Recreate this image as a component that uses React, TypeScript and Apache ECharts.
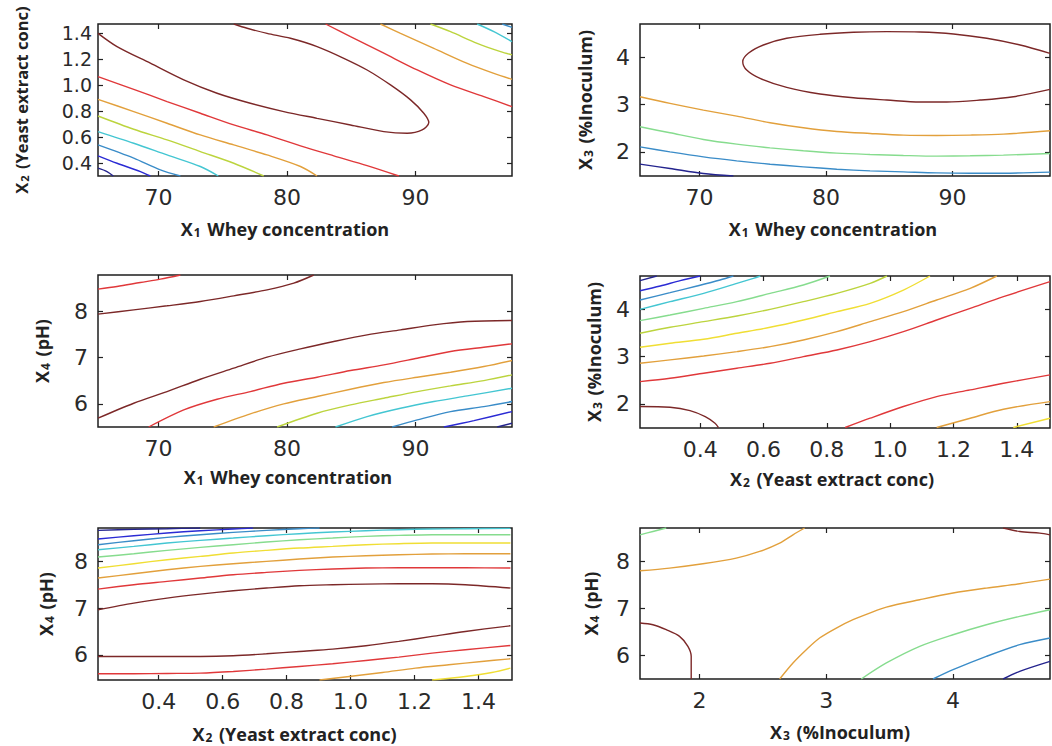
import React, { useEffect, useRef } from "react";
import * as echarts from "echarts";

// ---------- axis ranges & ticks ----------
const x1Range = [65.3, 97.5];
const x1RangeR = [65.3, 97.7];
const x2Range = [0.21, 1.505];
const x3Range = [1.53, 4.765];
const y1Range = [0.3, 1.47];
const y3Range = [1.49, 4.705];
const y4RangeP3 = [5.5, 8.79];
const y4RangeP5 = [5.46, 8.715];
const y4RangeP6 = [5.505, 8.71];

const x1Ticks = [70, 80, 90];
const x2Ticks = [0.4, 0.6, 0.8, 1.0, 1.2, 1.4];
const x3Ticks = [2, 3, 4];
const x4Ticks = [6, 7, 8];

// ---------- Panel 1: X1 vs X2 ----------
const p1_maroon = [[65.3,1.398],[66.78,1.296],[69.37,1.168],[71.97,1.04],[74.56,0.937],[77.15,0.86],[79.75,0.796],[82.34,0.744],[84.94,0.693],[87.53,0.642],[89.35,0.629],[90.51,0.655],[91.03,0.711],[90.64,0.783],[89.61,0.886],[88.05,1.001],[86.23,1.116],[84.42,1.206],[82.34,1.296],[80.27,1.36],[78.45,1.398],[76.9,1.437],[75.86,1.47]];
const p1_red = [[65.3,1.065],[68.08,0.967],[70.67,0.873],[73.26,0.783],[75.86,0.693],[78.45,0.616],[81.05,0.532],[83.64,0.455],[86.23,0.38],[88.7,0.3]];
const p1_orange = [[65.3,0.89],[68.08,0.796],[70.67,0.706],[73.26,0.616],[75.86,0.539],[78.45,0.462],[81.05,0.373],[82.34,0.3]];
const p1_ygreen = [[65.3,0.762],[68.08,0.66],[70.67,0.578],[73.26,0.488],[75.86,0.398],[78.19,0.3]];
const p1_cyan = [[65.3,0.642],[68.08,0.552],[70.67,0.462],[73.26,0.373],[74.66,0.3]];
const p1_steel = [[65.3,0.539],[68.08,0.437],[70.15,0.347],[71.71,0.3]];
const p1_blue = [[65.3,0.455],[66.78,0.398],[68.6,0.334],[69.37,0.3]];
const p1_navy = [[65.3,0.36],[66.0,0.334],[66.49,0.3]];
const p1_redTR = [[83.0,1.47],[84.94,1.373],[87.53,1.245],[90.13,1.116],[92.72,1.001],[95.31,0.911],[97.5,0.834]];
const p1_orangeTR = [[87.27,1.47],[88.83,1.398],[91.42,1.283],[94.02,1.167],[96.09,1.09],[97.5,1.044]];
const p1_ygreenTR = [[91.16,1.47],[92.72,1.411],[94.79,1.321],[96.61,1.257],[97.5,1.232]];
const p1_cyanTR = [[94.79,1.47],[96.09,1.411],[97.5,1.334]];
const p1_steelTR = [[96.74,1.47],[97.5,1.444]];

// ---------- Panel 2: X1 vs X3 ----------
const p2_maroon = [[97.7,4.085],[95.34,4.261],[92.7,4.403],[90.07,4.494],[87.43,4.537],[84.8,4.544],[82.16,4.53],[79.53,4.487],[76.89,4.403],[75.05,4.261],[73.86,4.085],[73.42,3.908],[73.73,3.732],[74.79,3.555],[76.89,3.364],[79.53,3.223],[82.16,3.145],[84.8,3.096],[87.43,3.054],[89.54,3.054],[92.18,3.096],[94.81,3.167],[97.7,3.322]];
const p2_orange = [[65.3,3.167],[67.67,3.025],[70.31,2.884],[72.94,2.757],[75.58,2.616],[78.21,2.51],[80.85,2.432],[83.48,2.39],[86.12,2.355],[88.75,2.347],[91.39,2.355],[94.02,2.376],[97.7,2.446]];
const p2_green = [[65.3,2.531],[67.67,2.404],[70.31,2.263],[72.94,2.164],[75.58,2.086],[78.21,2.023],[80.85,1.973],[83.48,1.945],[86.12,1.924],[88.75,1.91],[91.39,1.917],[94.02,1.931],[97.7,1.966]];
const p2_steel = [[65.3,2.107],[67.67,2.001],[70.31,1.895],[72.94,1.811],[75.58,1.74],[78.21,1.684],[80.85,1.634],[83.48,1.599],[86.12,1.578],[88.75,1.556],[91.39,1.549],[94.02,1.549],[97.7,1.571]];
const p2_navy = [[65.3,1.74],[67.67,1.648],[70.31,1.542],[72.68,1.49]];

// ---------- Panel 3: X1 vs X4 ----------
const p3_redTL = [[65.3,8.484],[66.78,8.542],[68.59,8.628],[70.15,8.7],[71.71,8.79]];
const p3_maroonTop = [[65.3,7.942],[68.08,8.036],[70.67,8.123],[73.26,8.217],[75.86,8.339],[78.45,8.469],[80.53,8.614],[82.08,8.79]];
const p3_maroon = [[65.3,5.69],[68.08,6.014],[70.67,6.267],[73.26,6.534],[75.86,6.773],[78.45,7.011],[81.05,7.191],[83.64,7.35],[86.23,7.495],[88.83,7.603],[91.42,7.711],[94.02,7.783],[97.5,7.805]];
const p3_red = [[69.24,5.5],[71.97,5.87],[74.56,6.101],[77.15,6.267],[79.75,6.448],[82.34,6.578],[84.94,6.722],[87.53,6.845],[90.13,6.989],[92.72,7.134],[95.31,7.227],[97.5,7.3]];
const p3_orange = [[74.3,5.5],[77.15,5.783],[79.75,6.0],[82.34,6.159],[84.94,6.318],[87.53,6.462],[90.13,6.578],[92.72,6.686],[95.31,6.809],[97.5,6.939]];
const p3_ygreen = [[79.23,5.5],[82.34,5.798],[84.94,5.978],[87.53,6.123],[90.13,6.267],[92.72,6.39],[95.31,6.505],[97.5,6.628]];
const p3_cyan = [[83.77,5.5],[86.23,5.726],[88.83,5.906],[91.42,6.051],[94.02,6.173],[97.5,6.339]];
const p3_steel = [[88.18,5.5],[90.13,5.653],[92.72,5.834],[95.31,5.942],[97.5,6.051]];
const p3_blue = [[92.2,5.5],[94.54,5.639],[97.5,5.834]];
const p3_navy = [[96.35,5.5],[97.5,5.581]];

// ---------- Panel 4: X2 vs X3 ----------
const p4_navy = [[0.21,4.606],[0.263,4.705]];
const p4_blue = [[0.21,4.394],[0.274,4.493],[0.337,4.606],[0.4,4.705]];
const p4_steel = [[0.21,4.197],[0.305,4.352],[0.39,4.493],[0.463,4.62],[0.505,4.705]];
const p4_cyan = [[0.21,4.0],[0.305,4.162],[0.411,4.338],[0.516,4.549],[0.568,4.655],[0.59,4.705]];
const p4_green = [[0.21,3.761],[0.305,3.88],[0.411,4.021],[0.516,4.162],[0.621,4.338],[0.726,4.514],[0.81,4.705]];
const p4_ygreen = [[0.21,3.493],[0.305,3.62],[0.411,3.739],[0.516,3.859],[0.621,4.0],[0.726,4.162],[0.832,4.338],[0.937,4.549],[0.99,4.705]];
const p4_yellow = [[0.21,3.197],[0.305,3.282],[0.411,3.366],[0.516,3.493],[0.621,3.62],[0.726,3.775],[0.832,3.951],[0.937,4.127],[1.042,4.408],[1.126,4.705]];
const p4_orange = [[0.21,2.859],[0.305,2.93],[0.411,3.014],[0.516,3.106],[0.621,3.211],[0.726,3.352],[0.832,3.528],[0.937,3.739],[1.042,3.951],[1.147,4.197],[1.253,4.444],[1.337,4.705]];
const p4_red = [[0.21,2.472],[0.305,2.542],[0.411,2.648],[0.516,2.754],[0.621,2.859],[0.726,3.0],[0.832,3.141],[0.937,3.317],[1.042,3.528],[1.147,3.775],[1.253,4.021],[1.358,4.268],[1.505,4.585]];
const p4_maroon = [[0.21,1.944],[0.305,1.93],[0.368,1.859],[0.416,1.732],[0.447,1.592],[0.458,1.5]];
const p4_redLow = [[0.858,1.5],[0.937,1.697],[1.042,1.944],[1.147,2.155],[1.253,2.296],[1.358,2.437],[1.505,2.613]];
const p4_orangeLow = [[1.147,1.5],[1.253,1.697],[1.358,1.887],[1.505,2.049]];
const p4_yellowLow = [[1.389,1.5],[1.505,1.697]];

// ---------- Panel 5: X2 vs X4 ----------
const p5_navy = [[0.21,8.664],[0.322,8.686],[0.426,8.7],[0.53,8.715]];
const p5_blue = [[0.21,8.479],[0.322,8.55],[0.426,8.607],[0.53,8.657],[0.633,8.693],[0.695,8.715]];
const p5_steel = [[0.21,8.357],[0.322,8.443],[0.426,8.514],[0.53,8.571],[0.633,8.621],[0.737,8.664],[0.84,8.7],[0.903,8.715]];
const p5_cyan = [[0.21,8.25],[0.322,8.321],[0.426,8.393],[0.53,8.45],[0.633,8.5],[0.737,8.55],[0.84,8.593],[0.944,8.629],[1.048,8.657],[1.151,8.679],[1.255,8.693],[1.359,8.7],[1.5,8.707]];
const p5_green = [[0.21,8.093],[0.322,8.164],[0.426,8.236],[0.53,8.3],[0.633,8.357],[0.737,8.414],[0.84,8.464],[0.944,8.5],[1.048,8.536],[1.151,8.557],[1.255,8.571],[1.359,8.571],[1.5,8.571]];
const p5_yellow = [[0.21,7.857],[0.322,7.95],[0.426,8.036],[0.53,8.107],[0.633,8.179],[0.737,8.236],[0.84,8.286],[0.944,8.321],[1.048,8.357],[1.151,8.379],[1.255,8.393],[1.359,8.393],[1.5,8.393]];
const p5_orange = [[0.21,7.643],[0.322,7.736],[0.426,7.821],[0.53,7.893],[0.633,7.95],[0.737,8.0],[0.84,8.05],[0.944,8.093],[1.048,8.121],[1.151,8.143],[1.255,8.157],[1.359,8.164],[1.5,8.164]];
const p5_red = [[0.21,7.407],[0.322,7.5],[0.426,7.571],[0.53,7.643],[0.633,7.714],[0.737,7.764],[0.84,7.807],[0.944,7.836],[1.048,7.857],[1.151,7.864],[1.255,7.864],[1.359,7.864],[1.5,7.857]];
const p5_maroon = [[0.21,6.964],[0.322,7.107],[0.426,7.214],[0.53,7.3],[0.633,7.371],[0.737,7.429],[0.84,7.479],[0.944,7.5],[1.048,7.514],[1.151,7.521],[1.255,7.521],[1.359,7.5],[1.5,7.429]];
const p5_maroonLow = [[0.21,5.964],[0.322,5.964],[0.426,5.964],[0.53,5.964],[0.633,5.979],[0.737,6.021],[0.84,6.071],[0.944,6.121],[1.048,6.193],[1.151,6.286],[1.255,6.393],[1.359,6.5],[1.5,6.621]];
const p5_redLow = [[0.21,5.593],[0.322,5.593],[0.426,5.6],[0.53,5.607],[0.633,5.643],[0.737,5.693],[0.84,5.75],[0.944,5.807],[1.048,5.879],[1.151,5.95],[1.255,6.036],[1.359,6.107],[1.5,6.2]];
const p5_orangeLow = [[0.903,5.46],[0.996,5.536],[1.1,5.621],[1.203,5.714],[1.307,5.786],[1.41,5.857],[1.5,5.914]];
const p5_yellowLow = [[1.255,5.46],[1.359,5.536],[1.442,5.621],[1.5,5.714]];

// ---------- Panel 6: X3 vs X4 ----------
const p6_greenTL = [[1.53,8.565],[1.632,8.636],[1.737,8.71]];
const p6_orangeTop = [[1.53,7.802],[1.763,7.859],[2.026,7.951],[2.289,8.071],[2.474,8.212],[2.632,8.389],[2.737,8.565],[2.829,8.71]];
const p6_maroon = [[1.53,6.693],[1.632,6.657],[1.737,6.551],[1.842,6.41],[1.908,6.198],[1.934,5.986],[1.934,5.505]];
const p6_maroonTR = [[4.395,8.71],[4.526,8.636],[4.684,8.601],[4.765,8.565]];
const p6_orangeLow = [[2.632,5.505],[2.737,5.845],[2.842,6.127],[2.947,6.375],[3.079,6.587],[3.211,6.763],[3.342,6.905],[3.474,7.032],[3.737,7.187],[4.0,7.329],[4.263,7.435],[4.526,7.527],[4.765,7.625]];
const p6_green = [[3.276,5.505],[3.474,5.845],[3.737,6.198],[4.0,6.445],[4.263,6.657],[4.526,6.834],[4.765,6.975]];
const p6_blue = [[3.842,5.505],[4.0,5.703],[4.263,5.986],[4.526,6.233],[4.765,6.375]];
const p6_navy = [[4.395,5.505],[4.526,5.668],[4.765,5.88]];

// ---------- colours (jet-like) ----------
const COL: Record<string, string> = {
  navy: "#24248e",
  blue: "#2b2bd4",
  steel: "#3a8cc8",
  cyan: "#44c6d2",
  green: "#86dc8e",
  ygreen: "#bcd43e",
  yellow: "#f0de34",
  orange: "#e2a03c",
  red: "#e0383a",
  maroon: "#7c2828",
};

const panelLines: [number, string, number[][]][] = [
  [0, "maroon", p1_maroon], [0, "red", p1_red], [0, "orange", p1_orange], [0, "ygreen", p1_ygreen],
  [0, "cyan", p1_cyan], [0, "steel", p1_steel], [0, "blue", p1_blue], [0, "navy", p1_navy],
  [0, "red", p1_redTR], [0, "orange", p1_orangeTR], [0, "ygreen", p1_ygreenTR], [0, "cyan", p1_cyanTR], [0, "steel", p1_steelTR],
  [1, "maroon", p2_maroon], [1, "orange", p2_orange], [1, "green", p2_green], [1, "steel", p2_steel], [1, "navy", p2_navy],
  [2, "red", p3_redTL], [2, "maroon", p3_maroonTop], [2, "maroon", p3_maroon], [2, "red", p3_red], [2, "orange", p3_orange],
  [2, "ygreen", p3_ygreen], [2, "cyan", p3_cyan], [2, "steel", p3_steel], [2, "blue", p3_blue], [2, "navy", p3_navy],
  [3, "navy", p4_navy], [3, "blue", p4_blue], [3, "steel", p4_steel], [3, "cyan", p4_cyan], [3, "green", p4_green],
  [3, "ygreen", p4_ygreen], [3, "yellow", p4_yellow], [3, "orange", p4_orange], [3, "red", p4_red], [3, "maroon", p4_maroon],
  [3, "red", p4_redLow], [3, "orange", p4_orangeLow], [3, "yellow", p4_yellowLow],
  [4, "navy", p5_navy], [4, "blue", p5_blue], [4, "steel", p5_steel], [4, "cyan", p5_cyan], [4, "green", p5_green],
  [4, "yellow", p5_yellow], [4, "orange", p5_orange], [4, "red", p5_red], [4, "maroon", p5_maroon],
  [4, "maroon", p5_maroonLow], [4, "red", p5_redLow], [4, "orange", p5_orangeLow], [4, "yellow", p5_yellowLow],
  [5, "green", p6_greenTL], [5, "orange", p6_orangeTop], [5, "maroon", p6_maroon], [5, "maroon", p6_maroonTR],
  [5, "orange", p6_orangeLow], [5, "green", p6_green], [5, "steel", p6_blue], [5, "navy", p6_navy],
];

// panel layout (pixels)
const panels = [
  { left: 98, top: 24, width: 414, height: 152, xr: x1Range, yr: y1Range, xt: x1Ticks, yt: x2Ticks, xd: 0, yd: 1, xn: ["X", "1", " Whey concentration"], yn: ["X", "2", " (Yeast extract conc)"], xGap: 44, xPad: 40, yGap: 68, yLab: 19, yMargin: 6, ySize: 16.5 },
  { left: 640, top: 24, width: 410, height: 152, xr: x1RangeR, yr: y3Range, xt: x1Ticks, yt: x3Ticks, xd: 0, yd: 0, xn: ["X", "1", " Whey concentration"], yn: ["X", "3", " (%Inoculum)"], xGap: 44, xPad: 24, yGap: 46, yLab: 22, yMargin: 10, ySize: 18 },
  { left: 98, top: 275, width: 414, height: 152, xr: x1Range, yr: y4RangeP3, xt: x1Ticks, yt: x4Ticks, xd: 0, yd: 0, xn: ["X", "1", " Whey concentration"], yn: ["X", "4", " (pH)"], xGap: 41, xPad: 34, yGap: 47, yLab: 22, yMargin: 10, ySize: 18 },
  { left: 640, top: 276, width: 410, height: 152, xr: x2Range, yr: y3Range, xt: x2Ticks, yt: x3Ticks, xd: 1, yd: 0, xn: ["X", "2", " (Yeast extract conc)"], yn: ["X", "3", " (%Inoculum)"], xGap: 42, xPad: 26, yGap: 37, yLab: 22, yMargin: 10, ySize: 18 },
  { left: 98, top: 528, width: 414, height: 152, xr: x2Range, yr: y4RangeP5, xt: x2Ticks, yt: x4Ticks, xd: 1, yd: 0, xn: ["X", "2", " (Yeast extract conc)"], yn: ["X", "4", " (pH)"], xGap: 45, xPad: 21, yGap: 43, yLab: 22, yMargin: 10, ySize: 18 },
  { left: 640, top: 528, width: 410, height: 151, xr: x3Range, yr: y4RangeP6, xt: x3Ticks, yt: x4Ticks, xd: 0, yd: 0, xn: ["X", "3", " (%Inoculum)"], yn: ["X", "4", " (pH)"], xGap: 44, xPad: 10, yGap: 40, yLab: 22, yMargin: 10, ySize: 18 },
];

const titleFont = "'Open Sans', 'DejaVu Sans', sans-serif";
const labelFont = "'DejaVu Sans', 'Liberation Sans', Arial, sans-serif";

function richName(parts: string[]) {
  return `{b|${parts[0]}}{s|${parts[1]}}{b|${parts[2]}}`;
}
function nameStyle(pad: number[], size: number) {
  return {
    padding: pad,
    rich: {
      b: { fontSize: size, fontWeight: "bold", fontFamily: titleFont, color: "#222" },
      s: { fontSize: Math.round(size * 0.68), fontWeight: "bold", fontFamily: titleFont, color: "#222", verticalAlign: "bottom", padding: [0, 2, 0, 1] },
    },
  };
}

export default function App() {
  const ref = useRef<HTMLDivElement>(null);
  useEffect(() => {
    if (!ref.current) return;
    const chart = echarts.init(ref.current, undefined, { renderer: "svg" });
    const grid: any[] = [];
    const xAxis: any[] = [];
    const yAxis: any[] = [];
    panels.forEach((p, i) => {
      grid.push({ left: p.left, top: p.top, width: p.width, height: p.height, show: true, borderColor: "#1e1e1e", borderWidth: 1.5, backgroundColor: "#fff" });
      const tick = (vals: number[]) => ({ show: true, inside: true, length: 5, customValues: vals, lineStyle: { color: "#222", width: 1.2 } });
      const fmt = (d: number) => (v: number) => v.toFixed(d);
      xAxis.push({
        gridIndex: i, type: "value", position: "bottom", min: p.xr[0], max: p.xr[1],
        axisLine: { show: false }, splitLine: { show: false }, axisTick: tick(p.xt),
        axisLabel: { customValues: p.xt, formatter: fmt(p.xd), fontSize: 22, color: "#2a2a2a", fontFamily: labelFont, margin: 10 },
        name: richName(p.xn), nameLocation: "middle", nameGap: p.xGap, nameTextStyle: nameStyle([0, p.xPad, 0, 0], 18),
      });
      xAxis.push({
        gridIndex: i, type: "value", position: "top", min: p.xr[0], max: p.xr[1],
        axisLine: { show: false }, splitLine: { show: false }, axisTick: tick(p.xt), axisLabel: { show: false },
      });
      yAxis.push({
        gridIndex: i, type: "value", position: "left", min: p.yr[0], max: p.yr[1],
        axisLine: { show: false }, splitLine: { show: false }, axisTick: tick(p.yt),
        axisLabel: { customValues: p.yt, formatter: fmt(p.yd), fontSize: p.yLab, color: "#2a2a2a", fontFamily: labelFont, margin: p.yMargin },
        name: richName(p.yn), nameLocation: "middle", nameGap: p.yGap, nameTextStyle: nameStyle([0, 0, 0, 0], p.ySize),
      });
      yAxis.push({
        gridIndex: i, type: "value", position: "right", min: p.yr[0], max: p.yr[1],
        axisLine: { show: false }, splitLine: { show: false }, axisTick: tick(p.yt), axisLabel: { show: false },
      });
    });
    const series = panelLines.map(([pi, col, pts]) => ({
      type: "line",
      xAxisIndex: pi * 2,
      yAxisIndex: pi * 2,
      data: pts,
      smooth: 0.3,
      symbol: "none",
      clip: true,
      lineStyle: { color: COL[col], width: 1.4 },
      silent: true,
    }));
    chart.setOption({ animation: false, backgroundColor: "#fff", grid, xAxis, yAxis, series });
    return () => chart.dispose();
  }, []);
  return <div ref={ref} style={{ position: "absolute", left: 0, top: 0, width: 1052, height: 746 }} />;
}
